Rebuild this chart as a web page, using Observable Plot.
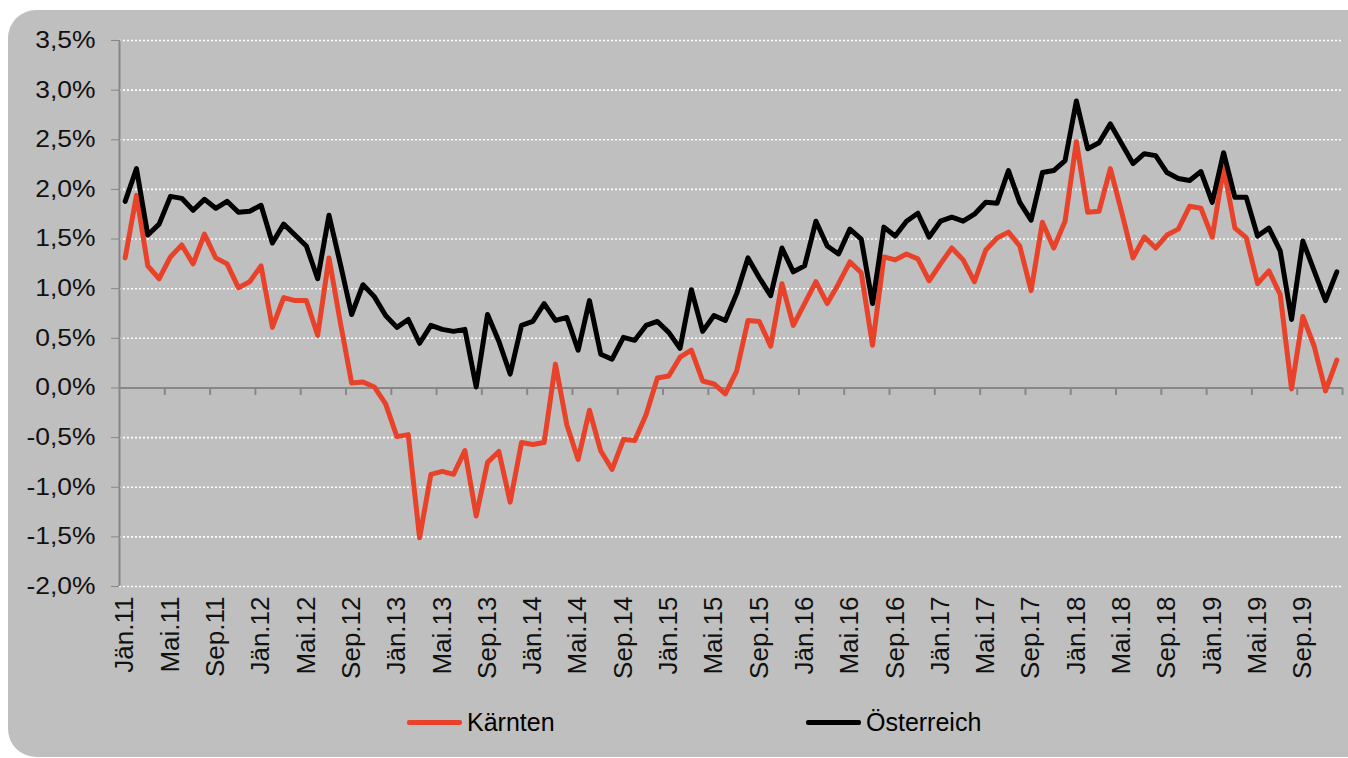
<!DOCTYPE html>
<html><head><meta charset="utf-8">
<script src="https://cdn.jsdelivr.net/npm/d3@7"></script>
<script src="https://cdn.jsdelivr.net/npm/@observablehq/plot@0.6"></script>
<style>
html,body{margin:0;padding:0;background:#fff;overflow:hidden;width:1348px;height:758px;}
#panel{position:absolute;left:8px;top:10px;width:1390px;height:747px;background:#bfbfbf;border-radius:28px;}
#chart{position:absolute;left:0;top:0;}
#legend{position:absolute;left:0;top:700px;width:1348px;height:50px;font-family:"Liberation Sans",Arial,sans-serif;font-size:25px;color:#000;}
.item{position:absolute;top:7px;display:flex;align-items:center;height:30px;}
.sw{width:55px;height:5px;margin-right:5px;border-radius:2px;}
</style></head>
<body>
<div id="panel"></div>
<div id="chart"></div>
<div id="legend"></div>
<script>
// Monthly values Jän.11 – Dez.19 (percent)
const kaernten = [
  1.31, 1.94, 1.23, 1.10, 1.32, 1.44, 1.25, 1.55, 1.31, 1.25, 1.01, 1.07,
  1.23, 0.61, 0.91, 0.88, 0.88, 0.53, 1.31, 0.66, 0.05, 0.06, 0.01, -0.16,
  -0.49, -0.47, -1.51, -0.87, -0.84, -0.87, -0.63, -1.29, -0.75, -0.64, -1.15, -0.55,
  -0.57, -0.55, 0.24, -0.37, -0.72, -0.225, -0.635, -0.82, -0.52, -0.53, -0.27, 0.10,
  0.12, 0.31, 0.38, 0.07, 0.04, -0.06, 0.17, 0.68, 0.67, 0.42, 1.05, 0.63,
  0.85, 1.07, 0.85, 1.05, 1.27, 1.16, 0.43, 1.32, 1.29, 1.35, 1.30, 1.08,
  1.25, 1.41, 1.29, 1.07, 1.39, 1.51, 1.57, 1.43, 0.98, 1.67, 1.41, 1.68,
  2.48, 1.77, 1.78, 2.21, 1.77, 1.31, 1.52, 1.41, 1.54, 1.60, 1.83, 1.81,
  1.52, 2.22, 1.61, 1.515, 1.05, 1.18, 0.94, -0.01, 0.72, 0.42, -0.03, 0.28
];
const oesterreich = [
  1.88, 2.21, 1.54, 1.65, 1.93, 1.91, 1.79, 1.90, 1.81, 1.88, 1.77, 1.78,
  1.84, 1.46, 1.65, 1.54, 1.43, 1.10, 1.74, 1.25, 0.74, 1.04, 0.92, 0.73,
  0.61, 0.69, 0.45, 0.63, 0.59, 0.57, 0.59, 0.01, 0.74, 0.47, 0.14, 0.63,
  0.67, 0.85, 0.68, 0.71, 0.38, 0.88, 0.34, 0.29, 0.51, 0.48, 0.63, 0.67,
  0.56, 0.40, 0.99, 0.57, 0.73, 0.68, 0.95, 1.31, 1.11, 0.93, 1.41, 1.17,
  1.23, 1.68, 1.43, 1.35, 1.60, 1.50, 0.85, 1.62, 1.53, 1.68, 1.76, 1.52,
  1.68, 1.72, 1.68, 1.75, 1.87, 1.86, 2.19, 1.87, 1.69, 2.17, 2.19, 2.29,
  2.89, 2.41, 2.47, 2.66, 2.46, 2.26, 2.36, 2.34, 2.17, 2.11, 2.09, 2.18,
  1.87, 2.37, 1.92, 1.92, 1.53, 1.61, 1.38, 0.69, 1.48, 1.18, 0.88, 1.17
];
const tickLabels = [
  "Jän.11","Mai.11","Sep.11","Jän.12","Mai.12","Sep.12","Jän.13","Mai.13","Sep.13",
  "Jän.14","Mai.14","Sep.14","Jän.15","Mai.15","Sep.15","Jän.16","Mai.16","Sep.16",
  "Jän.17","Mai.17","Sep.17","Jän.18","Mai.18","Sep.18","Jän.19","Mai.19","Sep.19"
];
const yTicks = [-2, -1.5, -1, -0.5, 0, 0.5, 1, 1.5, 2, 2.5, 3, 3.5];
const seriesNames = ["Kärnten", "Österreich"];
const seriesColors = ["#e8432a", "#000000"];

const n = kaernten.length;
const rowsK = kaernten.map((v, i) => ({i, v}));
const rowsO = oesterreich.map((v, i) => ({i, v}));
const labelIdx = tickLabels.map((_, k) => k * 4);
const bounds = d3.range(-0.5, n, 4).slice(1);

const W = 1348, H = 700;
const fmt = d => d.toFixed(1).replace(".", ",") + "%";
const gray = "#878787";

const chart = Plot.plot({
  width: W, height: H,
  marginLeft: 119, marginRight: 6, marginTop: 40, marginBottom: H - 586,
  x: {domain: [-0.5, n - 0.5]},
  y: {domain: [-2, 3.5]},
  style: {background: "transparent", fontFamily: '"Liberation Sans", Arial, sans-serif', color: "#111", overflow: "visible"},
  marks: [
    Plot.ruleY(yTicks.filter(d => d !== 0), {stroke: "#ffffff", strokeWidth: 1.6, strokeDasharray: "2,2"}),
    Plot.ruleY([0], {stroke: gray, strokeWidth: 2}),
    Plot.ruleX([-0.5], {stroke: gray, strokeWidth: 2}),
    Plot.ruleX(bounds, {x: d => d, y1: 0, y2: -0.075, stroke: gray, strokeWidth: 2}),
    Plot.axisY(yTicks, {tickSize: 8, tickPadding: 16, tickFormat: fmt, fontSize: 23, stroke: gray, label: null}),
    Plot.axisX(labelIdx, {tickSize: 0, tickPadding: 10, tickRotate: -90, tickFormat: i => tickLabels[i / 4], fontSize: 26, label: null}),
    Plot.lineY(rowsK, {x: "i", y: "v", stroke: seriesColors[0], strokeWidth: 5}),
    Plot.lineY(rowsO, {x: "i", y: "v", stroke: seriesColors[1], strokeWidth: 5})
  ]
});
document.getElementById("chart").appendChild(chart);

// slight horizontal stretch of y tick labels, as in the reference
chart.querySelectorAll('g[aria-label="y-axis tick label"] text').forEach(t => {
  const tr = t.getAttribute("transform") || "";
  t.setAttribute("transform", tr + " scale(1.15,1)");
});

// legend
const legend = document.getElementById("legend");
const lx = [407, 806];
seriesNames.forEach((name, k) => {
  const it = document.createElement("div");
  it.className = "item";
  it.style.left = lx[k] + "px";
  const sw = document.createElement("span");
  sw.className = "sw";
  sw.style.background = seriesColors[k];
  const tx = document.createElement("span");
  tx.textContent = name;
  it.appendChild(sw); it.appendChild(tx);
  legend.appendChild(it);
});
</script>
</body></html>
